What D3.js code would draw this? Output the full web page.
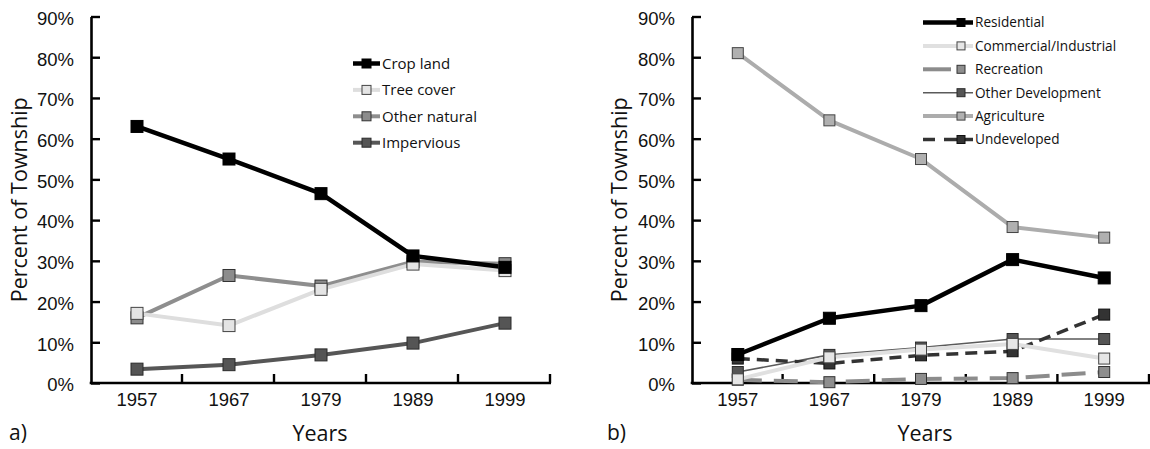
<!DOCTYPE html>
<html>
<head>
<meta charset="utf-8">
<script src="https://cdn.jsdelivr.net/npm/d3@7"></script>
<style>
  html, body { margin: 0; padding: 0; background: #fff; }
  svg { display: block; font-family: "Open Sans", "Noto Sans", sans-serif; }
</style>
</head>
<body>
<svg id="chart" width="1150" height="449"></svg>
<script>
// Survey years shared by both panels
const years = ["1957", "1967", "1979", "1989", "1999"];
const yTickValues = [0, 10, 20, 30, 40, 50, 60, 70, 80, 90];

// Panel a) land cover (% of township)
const cropLand     = [63.0, 55.0, 46.5, 31.2, 28.4];
const treeCover    = [17.1, 14.1, 23.0, 29.2, 27.6];
const otherNatural = [16.0, 26.4, 23.8, 29.8, 29.3];
const impervious   = [3.4, 4.5, 6.9, 9.8, 14.7];

// Panel b) land use (% of township)
const residential  = [7.0, 15.9, 19.0, 30.3, 25.8];
const commercial   = [0.9, 6.3, 8.2, 9.6, 6.0];
const recreation   = [0.8, 0.2, 1.0, 1.2, 2.7];
const otherDev     = [2.7, 6.9, 8.7, 10.8, 10.8];
const agriculture  = [81.0, 64.5, 55.0, 38.3, 35.7];
const undeveloped  = [6.0, 4.8, 6.8, 7.8, 16.8];

const svg = d3.select("#chart");

// Series styling; listed in drawing order (later = on top)
const panelA = {
  left: 91, right: 551, top: 16.5, bottom: 383,
  titleX: 19, yearsX: 320, tag: "a)", tagX: 9,
  legend: { x0: 353, x1: 380, mx: 366.5, tx: 382, y0: 63.5, dy: 26.4, size: 15, ms: 9 },
  legendOrder: ["Crop land", "Tree cover", "Other natural", "Impervious"],
  series: [
    { name: "Impervious",    values: impervious,   stroke: "#565656", width: 4,   fill: "#555555", mstroke: "#2a2a2a", ms: 12 },
    { name: "Other natural", values: otherNatural, stroke: "#8e8e8e", width: 4,   fill: "#8c8c8c", mstroke: "#333", ms: 12 },
    { name: "Tree cover",    values: treeCover,    stroke: "#dedede", width: 4,   fill: "#e4e4e4", mstroke: "#444", ms: 12 },
    { name: "Crop land",     values: cropLand,     stroke: "#000000", width: 4.5, fill: "#000000", mstroke: "#000", ms: 12 }
  ]
};

const panelB = {
  left: 692, right: 1150, top: 16.5, bottom: 383,
  titleX: 619, yearsX: 925, tag: "b)", tagX: 607,
  legend: { x0: 923, x1: 973, mx: 961, tx: 975, y0: 22.5, dy: 23.4, size: 13.6, ms: 8 },
  legendOrder: ["Residential", "Commercial/Industrial", "Recreation", "Other Development", "Agriculture", "Undeveloped"],
  series: [
    { name: "Recreation",            values: recreation,  stroke: "#8c8c8c", width: 4,   dash: "24,12", fill: "#8e8e8e", mstroke: "#333", ms: 11,
      legendDash: [[923, 951]] },
    { name: "Other Development",     values: otherDev,    stroke: "#5a5a5a", width: 1.6, fill: "#555555", mstroke: "#2a2a2a", ms: 11 },
    { name: "Undeveloped",           values: undeveloped, stroke: "#333333", width: 3.5, dash: "12,7", fill: "#333333", mstroke: "#111", ms: 11,
      legendDash: [[923, 935], [944, 973]] },
    { name: "Commercial/Industrial", values: commercial,  stroke: "#e0e0e0", width: 4,   fill: "#e6e6e6", mstroke: "#444", ms: 11 },
    { name: "Agriculture",           values: agriculture, stroke: "#acacac", width: 4,   fill: "#b0b0b0", mstroke: "#444", ms: 11 },
    { name: "Residential",           values: residential, stroke: "#000000", width: 4.5, fill: "#000000", mstroke: "#000", ms: 12 }
  ]
};

function drawPanel(p) {
  const g = svg.append("g");

  const x = d3.scaleBand().domain(years).range([p.left, p.right]).padding(0);
  const y = d3.scaleLinear().domain([0, 90]).range([p.bottom, p.top]);

  // Y axis: inward ticks, percent labels
  const yAxis = g.append("g")
    .attr("transform", `translate(${p.left},0)`)
    .call(d3.axisLeft(y).tickValues(yTickValues).tickSizeInner(-9).tickSizeOuter(0)
      .tickPadding(17).tickFormat(d => d + "%"));
  yAxis.select(".domain").attr("stroke", "#000").attr("stroke-width", 2.6);
  yAxis.selectAll(".tick line").attr("stroke", "#000").attr("stroke-width", 2.4);
  yAxis.selectAll(".tick text").attr("font-size", 18.5).attr("fill", "#111").attr("dy", "0.42em");

  // X axis: year labels at band centres, tick marks at band boundaries
  const xAxis = g.append("g")
    .attr("transform", `translate(0,${p.bottom})`)
    .call(d3.axisBottom(x).tickSize(0).tickPadding(9));
  xAxis.select(".domain").remove();
  xAxis.selectAll(".tick text").attr("font-size", 18.5).attr("fill", "#111").attr("dy", "0.78em");

  g.append("line")
    .attr("x1", p.left - 1.3).attr("x2", p.right)
    .attr("y1", p.bottom).attr("y2", p.bottom)
    .attr("stroke", "#000").attr("stroke-width", 2.6);

  const bounds = years.map((d, i) => x(d) + x.step());
  g.selectAll("line.xtick").data(bounds).join("line")
    .attr("class", "xtick")
    .attr("x1", d => d - 1).attr("x2", d => d - 1)
    .attr("y1", p.bottom).attr("y2", p.bottom - 9)
    .attr("stroke", "#000").attr("stroke-width", 2.4);

  // Axis titles and panel tag
  g.append("text")
    .attr("transform", `translate(${p.titleX + 8},${(p.top + p.bottom) / 2}) rotate(-90)`)
    .attr("text-anchor", "middle")
    .attr("font-size", 21.5).attr("fill", "#111")
    .text("Percent of Township");

  g.append("text")
    .attr("x", p.yearsX).attr("y", 441)
    .attr("text-anchor", "middle")
    .attr("font-size", 21.5).attr("fill", "#111")
    .text("Years");

  g.append("text")
    .attr("x", p.tagX).attr("y", 440)
    .attr("font-size", 21).attr("fill", "#111")
    .text(p.tag);

  // Series lines and square markers
  const line = d3.line()
    .x((d, i) => x(years[i]) + x.bandwidth() / 2)
    .y(d => y(d));

  p.series.forEach(s => {
    g.append("path")
      .datum(s.values)
      .attr("d", line)
      .attr("fill", "none")
      .attr("stroke", s.stroke)
      .attr("stroke-width", s.width)
      .attr("stroke-linejoin", "round")
      .attr("stroke-dasharray", s.dash || null);
  });
  p.series.forEach(s => {
    g.selectAll(null).data(s.values).join("rect")
      .attr("x", (d, i) => x(years[i]) + x.bandwidth() / 2 - s.ms / 2)
      .attr("y", d => y(d) - s.ms / 2)
      .attr("width", s.ms).attr("height", s.ms)
      .attr("fill", s.fill)
      .attr("stroke", s.mstroke)
      .attr("stroke-width", 1);
  });

  // Legend
  const L = p.legend;
  p.legendOrder.forEach((name, i) => {
    const s = p.series.find(d => d.name === name);
    const ly = L.y0 + i * L.dy;
    const segs = s.legendDash || [[L.x0, L.x1]];
    segs.forEach(([a, b]) => {
      g.append("line")
        .attr("x1", a).attr("x2", b).attr("y1", ly).attr("y2", ly)
        .attr("stroke", s.stroke).attr("stroke-width", s.width);
    });
    g.append("rect")
      .attr("x", L.mx - L.ms / 2).attr("y", ly - L.ms / 2)
      .attr("width", L.ms).attr("height", L.ms)
      .attr("fill", s.fill).attr("stroke", s.mstroke).attr("stroke-width", 1);
    g.append("text")
      .attr("x", L.tx).attr("y", ly).attr("dy", "0.36em")
      .attr("font-size", L.size).attr("fill", "#111")
      .text(name);
  });
}

drawPanel(panelA);
drawPanel(panelB);
</script>
</body>
</html>
